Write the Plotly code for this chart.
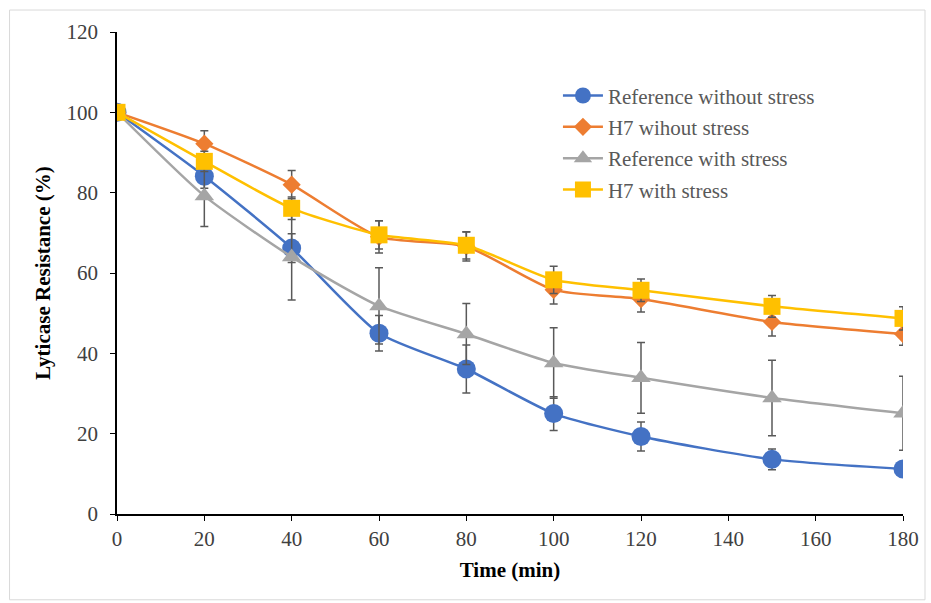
import plotly.graph_objects as go

time = [0, 20, 40, 60, 80, 100, 120, 150, 180]
ref_no = [100, 84.1, 66.2, 45.0, 36.1, 25.0, 19.3, 13.6, 11.2]
ref_no_err = [0, 3.0, 3.6, 4.4, 6.0, 4.2, 3.6, 2.6, 1.5]
h7_no = [100, 92.2, 82.0, 69.0, 66.6, 55.8, 53.5, 47.8, 44.8]
h7_no_err = [0, 3.2, 3.5, 4.0, 3.6, 3.5, 3.2, 3.5, 2.8]
ref_st = [100, 79.2, 64.0, 51.8, 44.8, 37.6, 33.9, 28.9, 25.1]
ref_st_err = [0, 7.6, 10.7, 9.5, 7.6, 8.8, 8.8, 9.4, 9.2]
h7_st = [100, 87.8, 76.1, 69.5, 66.9, 58.3, 55.7, 51.7, 48.7]
h7_st_err = [0, 2.5, 2.8, 3.5, 3.4, 3.4, 2.8, 2.7, 2.9]

names = ["Reference without stress", "H7 wihout stress", "Reference with stress", "H7 with stress"]
colors = ["#4472C4", "#ED7D31", "#A5A5A5", "#FFC000"]
symbols = ["circle", "diamond", "triangle-up", "square"]
sizes = [19, 14, 17, 17]

fig = go.Figure()
for i, (y, e, n, c, s, sz) in enumerate(zip([ref_no, h7_no, ref_st, h7_st],
                             [ref_no_err, h7_no_err, ref_st_err, h7_st_err],
                             names, colors, symbols, sizes)):
    fig.add_trace(go.Scatter(
        x=time, y=y, name=n, mode="lines+markers", legendgroup=f"g{i}",
        line=dict(color=c, width=2.5, shape="spline", smoothing=0.6),
        marker=dict(symbol=s, size=sz, color=c),
        error_y=dict(type="data", array=e, visible=True, color="#595959",
                     thickness=1.5, width=4),
    ))

fig.update_layout(
    width=931, height=603,
    margin=dict(l=117, r=24, t=32, b=89),
    paper_bgcolor="white", plot_bgcolor="white",
    font=dict(family="Liberation Serif", color="#404040", size=21),
    showlegend=True,
    legend=dict(x=0.561, y=0.91, xanchor="left", yanchor="top",
                font=dict(size=21, color="#595959", family="Liberation Serif"),
                bgcolor="rgba(0,0,0,0)", tracegroupgap=1, itemwidth=40),
    xaxis=dict(range=[0, 180], tickvals=list(range(0, 181, 20)),
               showgrid=False, zeroline=False, showline=True, linecolor="black",
               linewidth=1.5, ticks="outside", ticklen=5, tickcolor="black",
               title=dict(text="<b>Time (min)</b>", font=dict(size=21, color="black"), standoff=12)),
    yaxis=dict(range=[0, 120], tickvals=list(range(0, 121, 20)),
               showgrid=False, zeroline=False, showline=True, linecolor="black",
               linewidth=1.5, ticks="outside", ticklen=5, tickcolor="black",
               ticklabelstandoff=8,
               title=dict(text="<b>Lyticase Resistance (%)</b>", font=dict(size=21, color="black"), standoff=10)),
)
fig.add_shape(type="rect", xref="paper", yref="paper",
              x0=-0.1367, x1=1.028, y0=-0.178, y1=1.0456,
              line=dict(color="#D9D9D9", width=1), fillcolor="rgba(0,0,0,0)", layer="below")
fig.write_html("out.html")
